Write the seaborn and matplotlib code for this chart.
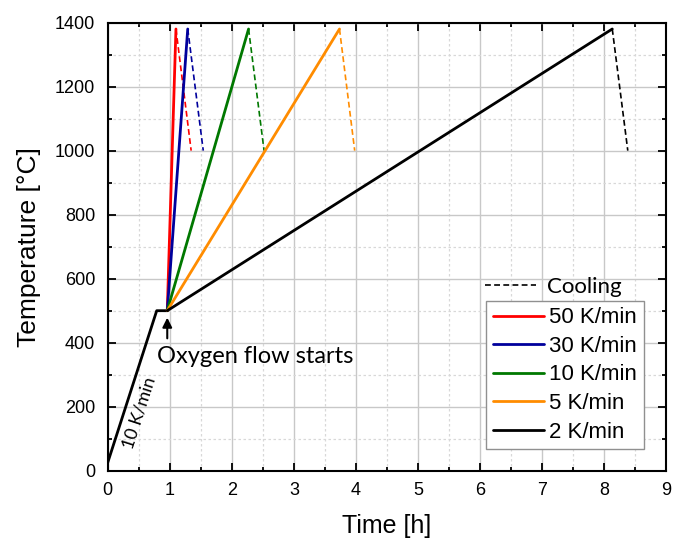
import matplotlib
matplotlib.use("Agg")
import matplotlib.pyplot as plt
from matplotlib.lines import Line2D
from matplotlib.ticker import MultipleLocator
import seaborn as sns
import pandas as pd

# ---- data ----
heat_t = [0.0, 0.79, 0.96]
heat_T = [25, 500, 500]
rates = ["50 K/min", "30 K/min", "10 K/min", "5 K/min", "2 K/min"]
colors = ["#ff0000", "#00009c", "#007800", "#ff8c00", "#000000"]
start_t = 0.96
start_T = 500
peak_t = [1.10, 1.29, 2.27, 3.735, 8.13]
peak_T = 1380
end_t = [1.345, 1.54, 2.52, 3.98, 8.38]
end_T = 1000

sns.set_style("ticks")
plt.rcParams["font.family"] = ["Liberation Sans", "DejaVu Sans"]
plt.rcParams["xtick.direction"] = "in"
plt.rcParams["ytick.direction"] = "in"
for k in ["text.color", "axes.labelcolor", "xtick.color", "ytick.color",
          "xtick.labelcolor", "ytick.labelcolor", "axes.edgecolor"]:
    plt.rcParams[k] = "black"

fig = plt.figure(figsize=(6.73, 5.38), dpi=100)
ax = fig.add_axes([0.160, 0.125, 0.830, 0.833])

# grids
ax.xaxis.set_major_locator(MultipleLocator(1))
ax.xaxis.set_minor_locator(MultipleLocator(0.5))
ax.yaxis.set_major_locator(MultipleLocator(200))
ax.yaxis.set_minor_locator(MultipleLocator(100))
ax.grid(which="major", color="#c8c8c8", lw=1.0, ls="-", zorder=0)
ax.grid(which="minor", color="#d8d8d8", lw=0.9, ls=(0, (2, 2)), zorder=0)
ax.set_axisbelow(True)

# common heating segment
heat_df = pd.DataFrame({"t": heat_t, "T": heat_T})
sns.lineplot(data=heat_df, x="t", y="T", ax=ax, color="black", lw=2,
             sort=False, estimator=None, legend=False)

for lab, c, pt, et in zip(rates, colors, peak_t, end_t):
    up = pd.DataFrame({"t": [start_t, pt], "T": [start_T, peak_T]})
    down = pd.DataFrame({"t": [pt, et], "T": [peak_T, end_T]})
    sns.lineplot(data=up, x="t", y="T", ax=ax, color=c, lw=2,
                 sort=False, estimator=None, legend=False)
    sns.lineplot(data=down, x="t", y="T", ax=ax, color=c, lw=1.2,
                 ls=(0, (3.5, 2)), sort=False, estimator=None, legend=False)

ax.set_xlim(0, 9)
ax.set_ylim(0, 1400)
ax.tick_params(which="both", top=True, right=True, labelsize=13, width=1.3,
               color="black", labelcolor="black")
ax.tick_params(axis="x", pad=8)
ax.tick_params(axis="y", pad=9)
ax.tick_params(which="major", length=5.5)
ax.tick_params(which="minor", length=3)
for s in ax.spines.values():
    s.set_linewidth(1.5)
    s.set_color("black")

ax.set_xlabel("Time [h]", fontsize=18, labelpad=11, color="black")
ax.set_ylabel("Temperature [°C]", fontsize=19, labelpad=10, color="black")

# annotations
ann_font = ["Lato", "DejaVu Sans"]
ax.annotate("", xy=(0.96, 487), xytext=(0.96, 405),
            arrowprops=dict(arrowstyle="-|>", color="black", lw=1.5,
                            mutation_scale=14))
ax.text(0.79, 357, "Oxygen flow starts", fontsize=17, family=ann_font,
        ha="left", va="center", color="black")
ax.text(0.51, 180, "10 K/min", fontsize=13, family=ann_font,
        rotation=72, ha="center", va="center", color="black")

# legends
handles = [Line2D([], [], color=c, lw=2) for c in colors]
leg = ax.legend(handles, rates, loc="lower left",
                bbox_to_anchor=(0.677, 0.048), borderaxespad=0,
                fontsize=16, frameon=True, fancybox=False,
                edgecolor="#909090", framealpha=1, handlelength=2.3,
                handletextpad=0.25, labelspacing=0.34, borderpad=0.3,
                labelcolor="black")
leg.get_frame().set_linewidth(1.0)
ax.add_artist(leg)
cool = ax.legend([Line2D([], [], color="black", lw=1.2, ls=(0, (3.5, 2)))],
                 ["Cooling"], loc="center left", bbox_to_anchor=(0.672, 0.41),
                 borderaxespad=0, frameon=False, handlelength=2.3,
                 handletextpad=0.5, borderpad=0.1, labelcolor="black",
                 prop={"family": ann_font, "size": 16})

fig.savefig("out.png", dpi=100)
